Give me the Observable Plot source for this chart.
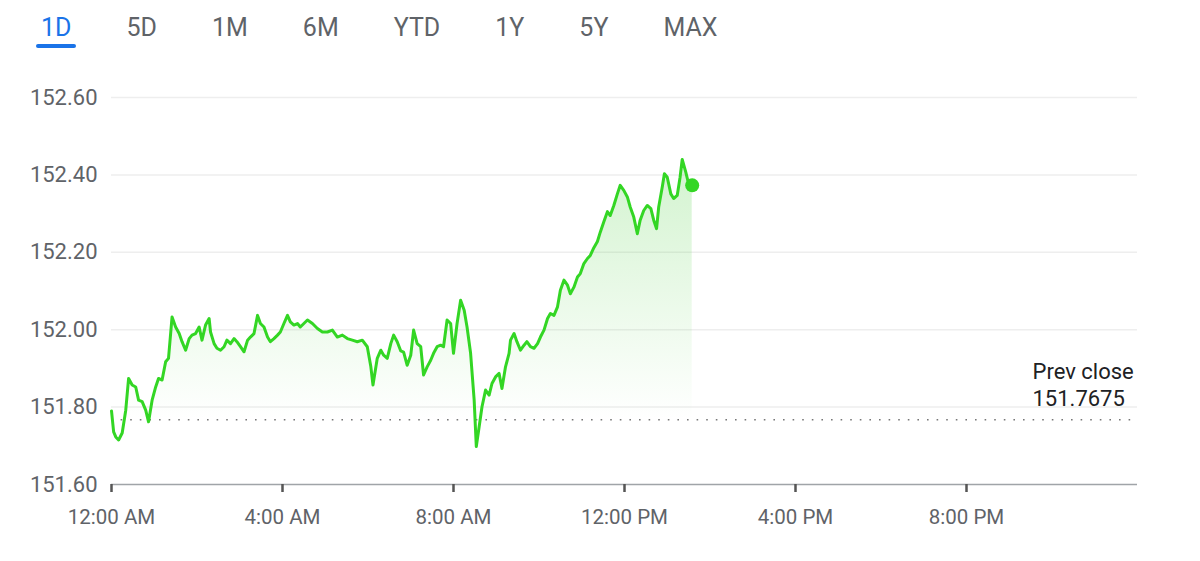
<!DOCTYPE html>
<html>
<head>
<meta charset="utf-8">
<script src="https://cdn.jsdelivr.net/npm/d3@7"></script>
<script src="https://cdn.jsdelivr.net/npm/@observablehq/plot@0.6"></script>
<style>
  body { margin: 0; background: #fff; font-family: Roboto, "Noto Sans", sans-serif; }
  #tabs { position: relative; height: 60px; display: flex; gap: 55px; padding-left: 41px; box-sizing: border-box; }
  #tabs span { position: relative; margin-top: 16px; font-size: 25px; line-height: 24px; height: 24px; color: #5f6368; }
  #tabs span.active { color: #1a73e8; }
  #tabs span.active::after { content: ""; position: absolute; left: -5px; right: -5px; top: 28px; height: 4px; border-radius: 2px; background: #1a73e8; }
  #chart svg { display: block; }
</style>
</head>
<body>
<div id="tabs"></div>
<div id="chart"></div>
<script>
const tabs = ["1D", "5D", "1M", "6M", "YTD", "1Y", "5Y", "MAX"];
const activeTab = "1D";

// minutes after midnight
const minutes = [
  0, 3, 6, 10, 15, 20, 24, 29, 34, 38,
  43, 48, 52, 57, 62, 66, 71, 76, 80, 85,
  90, 95, 99, 104, 109, 113, 118, 123, 127, 132,
  137, 139, 144, 148, 153, 158, 162, 167, 172, 176,
  181, 186, 191, 195, 200, 205, 209, 214, 219, 223,
  228, 233, 237, 242, 247, 251, 256, 261, 265, 270,
  275, 282, 289, 296, 303, 310, 317, 324, 331, 338,
  345, 352, 359, 364, 367, 373, 378, 382, 387, 392,
  396, 401, 406, 410, 415, 420, 424, 429, 434, 438,
  443, 448, 452, 457, 462, 466, 471, 476, 480, 485,
  490, 495, 499, 504, 509, 512, 516, 520, 525, 530,
  534, 539, 544, 548, 553, 558, 560, 565, 569, 574,
  579, 583, 588, 593, 598, 602, 607, 612, 616, 621,
  626, 630, 635, 640, 644, 649, 654, 658, 663, 668,
  672, 677, 682, 686, 691, 696, 700, 705, 710, 714,
  719, 724, 728, 733, 738, 742, 747, 752, 757, 761,
  765, 768, 773, 776, 780, 785, 789, 794, 798, 801,
  806, 810, 815
];
const prices = [
  151.790, 151.736, 151.723, 151.715, 151.733, 151.792, 151.874, 151.857, 151.852, 151.818,
  151.814, 151.792, 151.762, 151.818, 151.852, 151.874, 151.870, 151.917, 151.926, 152.033,
  152.007, 151.990, 151.969, 151.947, 151.977, 151.986, 151.990, 152.007, 151.973, 152.012,
  152.029, 151.994, 151.964, 151.952, 151.947, 151.956, 151.973, 151.964, 151.977, 151.969,
  151.956, 151.943, 151.973, 151.981, 151.990, 152.037, 152.016, 152.007, 151.981, 151.969,
  151.977, 151.986, 151.994, 152.016, 152.037, 152.020, 152.012, 152.016, 152.007, 152.016,
  152.025, 152.016, 152.003, 151.994, 151.994, 151.999, 151.981, 151.986, 151.977, 151.973,
  151.969, 151.973, 151.956, 151.904, 151.857, 151.926, 151.947, 151.934, 151.926, 151.964,
  151.986, 151.969, 151.945, 151.942, 151.908, 151.934, 151.999, 151.964, 151.956, 151.883,
  151.904, 151.921, 151.939, 151.956, 151.960, 151.956, 152.025, 152.016, 151.939, 152.016,
  152.076, 152.050, 152.007, 151.939, 151.818, 151.698, 151.749, 151.801, 151.844, 151.831,
  151.861, 151.878, 151.887, 151.848, 151.904, 151.939, 151.973, 151.990, 151.969, 151.947,
  151.960, 151.969, 151.956, 151.952, 151.964, 151.981, 151.999, 152.029, 152.042, 152.037,
  152.059, 152.102, 152.128, 152.115, 152.093, 152.110, 152.136, 152.145, 152.171, 152.184,
  152.192, 152.212, 152.228, 152.252, 152.279, 152.305, 152.295, 152.321, 152.351, 152.373,
  152.360, 152.343, 152.317, 152.291, 152.248, 152.283, 152.308, 152.321, 152.313, 152.283,
  152.261, 152.317, 152.369, 152.403, 152.394, 152.351, 152.339, 152.347, 152.394, 152.440,
  152.407, 152.377, 152.373
];
const prevClose = 151.7675;
const prevCloseLabel = "Prev close";
const yTicks = [151.6, 151.8, 152.0, 152.2, 152.4, 152.6];
const xTicks = [0, 4, 8, 12, 16, 20]; // hours
const xTickLabels = ["12:00 AM", "4:00 AM", "8:00 AM", "12:00 PM", "4:00 PM", "8:00 PM"];

// tabs
const tabsDiv = document.getElementById("tabs");
for (const t of tabs) {
  const s = document.createElement("span");
  s.textContent = t;
  if (t === activeTab) s.className = "active";
  tabsDiv.appendChild(s);
}

const data = minutes.map((m, i) => ({h: m / 60, p: prices[i]}));
const green = "#33d624";

const gradientDefs = () => {
  const ns = "http://www.w3.org/2000/svg";
  const defs = document.createElementNS(ns, "defs");
  const lg = document.createElementNS(ns, "linearGradient");
  lg.setAttribute("id", "areaGrad");
  lg.setAttribute("x1", "0"); lg.setAttribute("y1", "0");
  lg.setAttribute("x2", "0"); lg.setAttribute("y2", "1");
  const s1 = document.createElementNS(ns, "stop");
  s1.setAttribute("offset", "0"); s1.setAttribute("stop-color", "#34c924"); s1.setAttribute("stop-opacity", "0.22");
  const s2 = document.createElementNS(ns, "stop");
  s2.setAttribute("offset", "0.8"); s2.setAttribute("stop-color", "#34c924"); s2.setAttribute("stop-opacity", "0");
  lg.appendChild(s1); lg.appendChild(s2);
  defs.appendChild(lg);
  return defs;
};

const chart = Plot.plot({
  width: 1200,
  height: 501,
  marginTop: 37,
  marginBottom: 77,
  marginLeft: 111,
  marginRight: 63,
  x: {domain: [0, 24]},
  y: {domain: [151.6, 152.6]},
  style: {fontFamily: "Roboto, 'Noto Sans', sans-serif", fontSize: "21px", color: "#5f6368", background: "#fff"},
  marks: [
    gradientDefs,
    Plot.ruleY(yTicks.slice(1), {stroke: "#eeeeee", strokeWidth: 1.5}),
    Plot.areaY(data, {x: "h", y1: 151.6, y2: "p", fill: "url(#areaGrad)"}),
    Plot.ruleY([prevClose], {stroke: "#777", strokeWidth: 1.6, strokeDasharray: "1.6 8"}),
    Plot.ruleY([151.6], {stroke: "#a0a4a8", strokeWidth: 1.5}),
    Plot.axisY(yTicks, {tickSize: 0, tickPadding: 14, tickFormat: d => d.toFixed(2), label: null, fontSize: 22}),
    Plot.axisX(xTicks, {tickSize: 8, tickPadding: 17, strokeWidth: 2.5, stroke: "#555", fill: "#5f6368",
      tickFormat: d => xTickLabels[xTicks.indexOf(d)], label: null, fontSize: 20.5}),
    Plot.line(data, {x: "h", y: "p", stroke: green, strokeWidth: 3, strokeLinejoin: "round"}),
    Plot.dot([data[data.length - 1]], {x: "h", y: "p", r: 7, fill: green}),
    Plot.text([prevClose], {y: d => d, frameAnchor: "right", textAnchor: "start", dx: -105, dy: -14,
      lineAnchor: "bottom", lineHeight: 1.2, fontSize: 22, fill: "#202124",
      text: d => `${prevCloseLabel}\n${d}`})
  ]
});
document.getElementById("chart").appendChild(chart);
</script>
</body>
</html>
